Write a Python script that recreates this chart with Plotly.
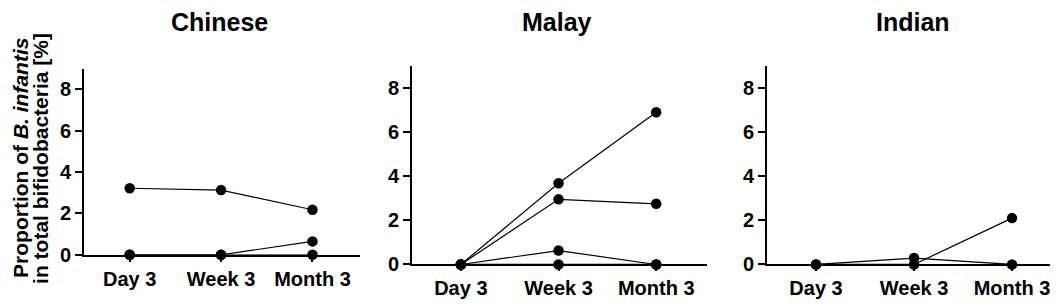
import plotly.graph_objects as go

timepoints = ["Day 3", "Week 3", "Month 3"]
groups = ["Chinese", "Malay", "Indian"]

chinese_series = [
    [3.22, 3.13, 2.18],
    [0.0, 0.0, 0.65],
    [0.0, 0.0, 0.0],
]
malay_series = [
    [0.0, 3.68, 6.90],
    [0.0, 2.95, 2.75],
    [0.0, 0.63, 0.0],
    [0.0, 0.0, 0.0],
]
indian_series = [
    [0.0, 0.29, 0.0],
    [0.0, 0.0, 2.10],
]
y_ticks = [0, 2, 4, 6, 8]
y_title_lines = ["Proportion of <i>B. infantis</i>", "in total bifidobacteria [%]"]

W, H = 1058, 307
FONT = "Liberation Sans, Arial, sans-serif"

# panel pixel boxes: (x0, x1, ytop, ybottom)
boxes = [(76, 352, 63, 256), (404, 699, 60, 266), (759, 1055, 60, 266)]

fig = go.Figure()
all_series = [chinese_series, malay_series, indian_series]
for i, series in enumerate(all_series):
    ax = "" if i == 0 else str(i + 1)
    for s in series:
        fig.add_trace(go.Scatter(
            x=timepoints, y=s, mode="lines+markers",
            line=dict(color="black", width=1.2),
            marker=dict(color="black", size=10.5),
            cliponaxis=False, showlegend=False, hoverinfo="skip",
            xaxis="x" + ax, yaxis="y" + ax,
        ))

layout = dict(
    width=W, height=H, margin=dict(l=0, r=0, t=0, b=0),
    paper_bgcolor="white", plot_bgcolor="white",
    font=dict(family=FONT, color="black"),
    annotations=[],
)
for i, (x0, x1, yt, yb) in enumerate(boxes):
    ax = "" if i == 0 else str(i + 1)
    layout["xaxis" + ax] = dict(
        domain=[x0 / W, x1 / W], anchor="y" + ax,
        type="category", categoryorder="array", categoryarray=timepoints,
        range=[-0.5, 2.52], showgrid=False, zeroline=False,
        showline=True, linecolor="black", linewidth=2,
        ticks="outside", ticklen=5, tickwidth=2, tickcolor="black",
        tickfont=dict(family=FONT, size=20, color="black", weight="bold"),
        fixedrange=True,
    )
    layout["yaxis" + ax] = dict(
        domain=[(H - yb) / H, (H - yt) / H], anchor="x" + ax,
        range=[0, 9], tickvals=y_ticks, showgrid=False, zeroline=False,
        showline=True, linecolor="black", linewidth=2,
        ticks="outside", ticklen=7, tickwidth=2, tickcolor="black",
        tickfont=dict(family=FONT, size=20, color="black", weight="bold"),
        fixedrange=True,
    )
    layout["annotations"].append(dict(
        text="<b>%s</b>" % groups[i], xref="paper", yref="paper",
        x=(x0 + x1) / 2 / W - 0.002, y=1 + 1.5 / H, xanchor="center", yanchor="top",
        borderpad=0, showarrow=False, font=dict(family=FONT, size=25, color="black"),
    ))

for xc, line in zip([12.5, 32.5], y_title_lines):
    layout["annotations"].append(dict(
        text="<b>%s</b>" % line,
        xref="paper", yref="paper", x=xc / W, y=(H - 156) / H,
        xanchor="center", yanchor="middle", textangle=-90, showarrow=False,
        borderpad=0, font=dict(family=FONT, size=21, color="black"),
    ))

fig.update_layout(**layout)
fig.write_html("out.html")
